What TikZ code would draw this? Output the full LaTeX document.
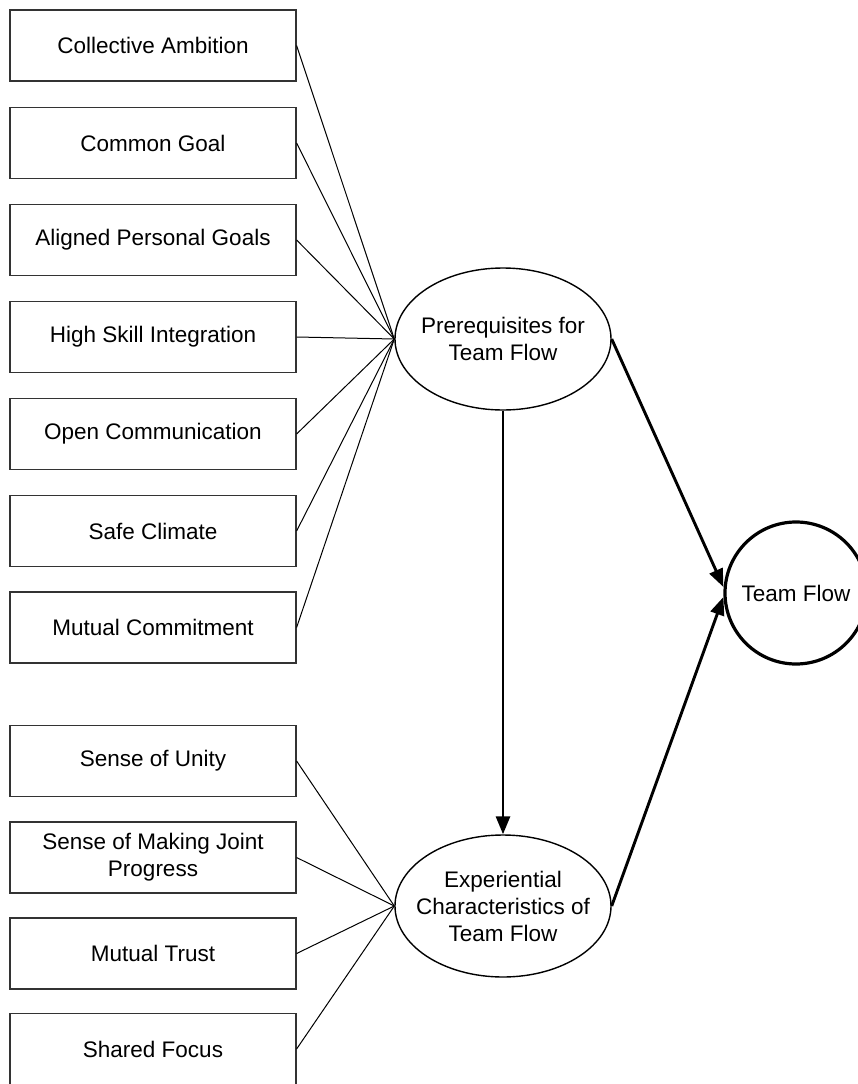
\documentclass[tikz,border=0pt]{standalone}
\usepackage{fontspec}
\setmainfont{Liberation Sans}
\usetikzlibrary{arrows.meta,shapes.geometric}
\begin{document}
\begin{tikzpicture}[x=1pt,y=-1pt,
  every node/.style={font=\fontsize{22.5}{27}\selectfont},
  itembox/.style={draw=black!80, line width=1.2pt, minimum width=286pt, minimum height=71pt, inner sep=0pt, align=center},
  latent/.style={draw, ellipse, line width=1.4pt, minimum width=216pt, minimum height=142pt, inner sep=0pt},
  inlabel/.style={label={[align=center, font=\fontsize{22.5}{27}\selectfont]center:#1}},
  outcome/.style={draw, circle, line width=3.2pt, minimum size=142pt, inner sep=0pt},
  thin/.style={line width=1pt},
  causal/.style={line width=2.9pt, -{Triangle[length=18pt,width=14pt,fill=black]}}
]
\useasboundingbox (0,0) rectangle (858,1084);
\node[itembox] (a1) at (153,45.5) {Collective Ambition};
\node[itembox] (a2) at (153,143) {Common Goal};
\node[itembox] (a3) at (153,240) {Aligned Personal Goals};
\node[itembox] (a4) at (153,337) {High Skill Integration};
\node[itembox] (a5) at (153,434) {Open Communication};
\node[itembox] (a6) at (153,531) {Safe Climate};
\node[itembox] (a7) at (153,627.5) {Mutual Commitment};
\node[itembox] (b1) at (153,761) {Sense of Unity};
\node[itembox] (b2) at (153,857.5) {Sense of Making Joint\\Progress};
\node[itembox] (b3) at (153,953.5) {Mutual Trust};
\node[itembox] (b4) at (153,1049) {Shared Focus};
\node[latent, inlabel={Prerequisites for\\Team Flow}] (pre) at (503,339) {};
\node[latent, inlabel={Experiential\\Characteristics of\\Team Flow}] (exp) at (503,906) {};
\node[outcome] (tf) at (796,593) {Team Flow};
\foreach \n in {a1,a2,a3,a4,a5,a6,a7} \draw[thin] (\n.east) -- (pre.west);
\foreach \n in {b1,b2,b3,b4} \draw[thin] (\n.east) -- (exp.west);
\draw[causal] (pre.south) -- (exp.north);
\draw[causal] (pre.east) -- ([yshift=6pt]tf.west);
\draw[causal] (exp.east) -- ([yshift=-4pt]tf.west);
\end{tikzpicture}
\end{document}
